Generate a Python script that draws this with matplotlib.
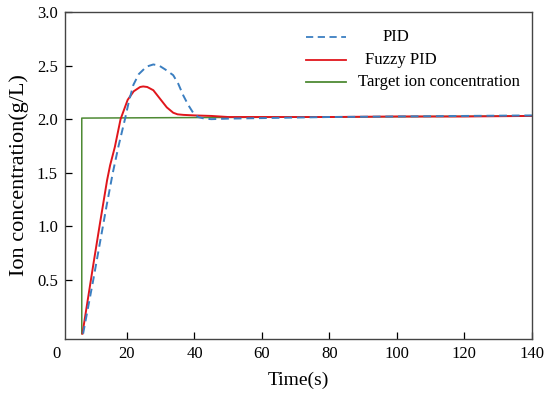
import matplotlib.pyplot as plt

# data
t_pid = [7.0, 10, 12, 14, 15.8, 17.5, 19.4, 20.6, 21.9, 23.5, 25.8, 27.8, 29.5,
         31.5, 33.7, 35.2, 36.7, 38.2, 39.6, 41.1, 43, 45, 50, 60, 80, 100, 120, 140]
c_pid = [0.0, 0.5, 0.85, 1.2, 1.5, 1.75, 2.0, 2.17, 2.32, 2.42, 2.49, 2.51, 2.5,
         2.46, 2.41, 2.33, 2.22, 2.13, 2.06, 2.02, 2.005, 2.0, 2.005, 2.01, 2.02,
         2.025, 2.03, 2.035]

t_fuzzy = [6.8, 10, 12, 14.1, 15, 16.4, 18.1, 20.2, 22, 23.9, 24.8, 26, 27.8,
           29.8, 31.8, 33.7, 35, 36.7, 40, 45, 50, 60, 80, 100, 120, 140]
c_fuzzy = [0.0, 0.64, 1.03, 1.43, 1.57, 1.74, 2.0, 2.18, 2.26, 2.3, 2.305, 2.3,
           2.27, 2.19, 2.11, 2.06, 2.045, 2.04, 2.035, 2.03, 2.02, 2.02, 2.02,
           2.025, 2.025, 2.03]

t_target = [6.6, 6.6, 40, 80, 140]
c_target = [0.0, 2.01, 2.015, 2.02, 2.03]

labels = ["PID", "Fuzzy PID", "Target ion concentration"]
xticks = [20, 40, 60, 80, 100, 120, 140]
yticks = [0.5, 1.0, 1.5, 2.0, 2.5, 3.0]

plt.rcParams['font.family'] = ['Liberation Serif', 'DejaVu Serif']

fig = plt.figure(figsize=(5.5, 3.97), dpi=100)
ax = fig.add_axes([0.118, 0.146, 0.849, 0.824])

blue, red, green = '#3b7fc1', '#e0161c', '#4e8a34'
ax.plot(t_target, c_target, color=green, lw=1.1)
ax.plot(t_fuzzy, c_fuzzy, color=red, lw=1.4)
ax.plot(t_pid, c_pid, color=blue, lw=1.4, ls=(0, (4, 2.5)))

ax.set_xlim(1.6, 140)
ax.set_ylim(-0.05, 3.0)
ax.set_xticks(xticks)
ax.set_yticks(yticks)
ax.set_yticklabels([f"{v:.1f}" for v in yticks])
ax.tick_params(direction='in', length=5, labelsize=12, width=0.9)
ax.tick_params(axis='x', pad=5)
ax.tick_params(axis='y', pad=5)
ax.text(-1, -0.022, "0", ha='center', va='top', fontsize=12,
        transform=ax.get_xaxis_transform())
for s in ax.spines.values():
    s.set_color('#444444')
    s.set_linewidth(1.0)

ax.set_xlabel("Time(s)", fontsize=14, labelpad=7)
ax.set_ylabel("Ion concentration(g/L)", fontsize=16, labelpad=6)

# legend drawn by hand to match the uneven text placement
styles = [(blue, (0, (4, 2.5)), 0.681), (red, '-', 0.642), (green, '-', 0.627)]
rows = [0.924, 0.853, 0.786]
for lab, (col, ls, tx), ry in zip(labels, styles, rows):
    ax.plot([0.516, 0.602], [ry, ry], color=col, ls=ls, lw=1.3,
            transform=ax.transAxes)
    ax.text(tx, ry, lab, fontsize=12, va='center', ha='left',
            transform=ax.transAxes)

fig.savefig("out.png", dpi=100)
